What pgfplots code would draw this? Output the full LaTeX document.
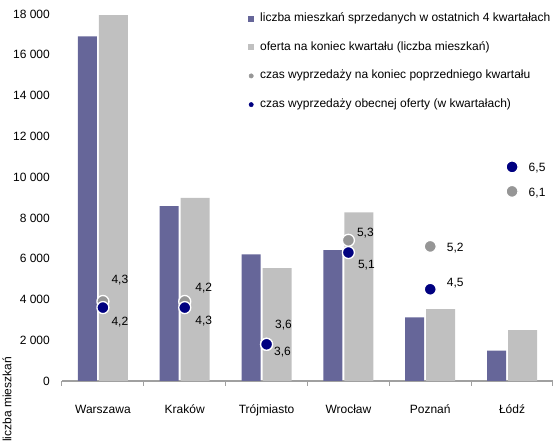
\documentclass[border=0pt]{standalone}
\usepackage{fontspec}
\setmainfont{Liberation Sans}
\usepackage{pgfplots}
\usepackage{pgfplotstable}
\pgfplotsset{compat=1.18}
\definecolor{barA}{RGB}{102,102,153}
\definecolor{barB}{RGB}{192,192,192}
\definecolor{dotG}{RGB}{150,150,150}
\definecolor{dotN}{RGB}{0,0,128}
\definecolor{axisgray}{RGB}{160,160,160}

\pgfplotstableread{
x sold offer
0 16900 17950
1 8580 8980
2 6210 5530
3 6420 8270
4 3120 3530
5 1490 2500
}\barsdata

\pgfplotstableread{
x y dx dy lab
0 4.3 17 21 4,3
1 4.3 19 -20 4,3
2 3.6 17 19 3,6
3 5.3 17 7 5,3
4 5.2 25 -2 5,2
5 6.1 25 -2 6,1
}\prevdata

\pgfplotstableread{
x y dx dy lab
0 4.2 17 -14 4,2
1 4.2 19 20 4,2
2 3.6 16 -8 3,6
3 5.1 18 -13 5,1
4 4.5 25 6 4,5
5 6.5 25 -1 6,5
}\currdata

\begin{document}
\begin{tikzpicture}[font=\fontsize{12}{14}\selectfont]
\path[use as bounding box] (-62pt,-62pt) rectangle (493pt,381pt);
\begin{axis}[
  at={(0pt,0pt)}, anchor=south west,
  scale only axis, width=491pt, height=367pt,
  xmin=-0.5, xmax=5.5, ymin=0, ymax=18000,
  scaled y ticks=false,
  axis x line*=bottom, axis y line*=left,
  x axis line style={draw=axisgray, line width=1.5pt, -},
  y axis line style={draw=none},
  xtick={0,...,5},
  xticklabels={Warszawa,Kraków,Trójmiasto,Wrocław,Poznań,Łódź},
  minor xtick={-0.5,0.5,...,5.5},
  major tick length=0pt, minor tick length=5pt,
  xtick align=outside,
  minor tick style={draw=axisgray, line width=1pt},
  ytick={0,2000,...,18000},
  yticklabels={0,2 000,4 000,6 000,8 000,10 000,12 000,14 000,16 000,18 000},
  ytick style={draw=none},
  yticklabel style={anchor=east, inner sep=0pt, xshift=-12pt},
  xticklabel style={anchor=base, inner sep=0pt, yshift=-33pt},
  legend cell align=left,
  legend style={draw=none, fill=none, at={(0.3727,1.01)}, anchor=north west,
    row sep=16.7pt, column sep=6pt,
    nodes={inner sep=0pt, text height=9pt, text depth=3pt}},
]
\addplot[ybar, bar width=19pt, bar shift=-15.5pt, fill=barA, draw=none,
  legend image code/.code={\fill[barA] (0pt,-3pt) rectangle (6pt,3pt);}]
  table[x=x,y=sold]{\barsdata};
\addlegendentry{liczba mieszkań sprzedanych w ostatnich 4 kwartałach}
\addplot[ybar, bar width=29pt, bar shift=10.5pt, fill=barB, draw=none,
  legend image code/.code={\fill[barB] (0pt,-3pt) rectangle (6pt,3pt);}]
  table[x=x,y=offer]{\barsdata};
\addlegendentry{oferta na koniec kwartału (liczba mieszkań)}
\addlegendimage{legend image code/.code={\fill[dotG] (3pt,0pt) circle (2.2pt);}}
\addlegendentry{czas wyprzedaży na koniec poprzedniego kwartału}
\addlegendimage{legend image code/.code={\fill[dotN] (3pt,0pt) circle (2.2pt);}}
\addlegendentry{czas wyprzedaży obecnej oferty (w kwartałach)}
\end{axis}
\begin{axis}[
  at={(0pt,0pt)}, anchor=south west,
  scale only axis, width=491pt, height=367pt,
  xmin=-0.5, xmax=5.5, ymin=3, ymax=9,
  hide axis, clip=false,
]
\addplot[only marks, mark=*, mark size=6pt,
  mark options={draw=white, line width=1.3pt, fill=dotG},
  point meta=explicit symbolic,
  visualization depends on={\thisrow{dx} \as \dx},
  visualization depends on={\thisrow{dy} \as \dy},
  nodes near coords,
  nodes near coords style={anchor=center, inner sep=0pt, xshift=\dx*1pt, yshift=\dy*1pt, font=\fontsize{12}{14}\selectfont}]
  table[x=x,y=y,meta=lab]{\prevdata};
\addplot[only marks, mark=*, mark size=6pt,
  mark options={draw=white, line width=1.3pt, fill=dotN},
  point meta=explicit symbolic,
  visualization depends on={\thisrow{dx} \as \dx},
  visualization depends on={\thisrow{dy} \as \dy},
  nodes near coords,
  nodes near coords style={anchor=center, inner sep=0pt, xshift=\dx*1pt, yshift=\dy*1pt, font=\fontsize{12}{14}\selectfont}]
  table[x=x,y=y,meta=lab]{\currdata};
\end{axis}
\node[rotate=90, anchor=west, inner sep=0pt] at (-55pt,-61pt) {liczba mieszkań};
\end{tikzpicture}
\end{document}
